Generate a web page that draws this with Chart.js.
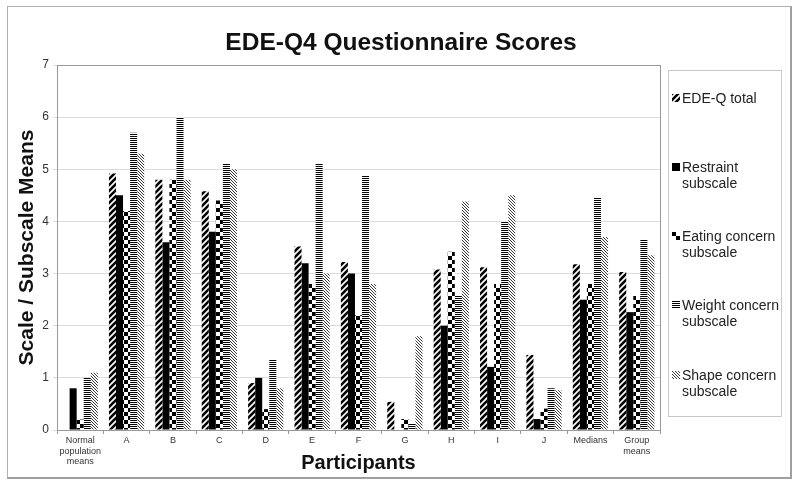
<!DOCTYPE html>
<html>
<head>
<meta charset="utf-8">
<script src="https://cdn.jsdelivr.net/npm/chart.js@4.4.1/dist/chart.umd.min.js"></script>
<style>
  html,body{margin:0;padding:0;background:#fff;}
  #wrap{position:relative;width:800px;height:488px;font-family:"Liberation Sans",Arial,sans-serif;}
  #frame{position:absolute;left:7px;top:6px;width:782px;height:470px;border:1px solid #b0b0b0;border-right:2px solid #a0a0a0;border-bottom:2px solid #a0a0a0;pointer-events:none;}
  #title{position:absolute;left:0;top:27px;width:802px;text-align:center;font-weight:bold;font-size:24.5px;color:#111;line-height:30px;}
  #legend{position:absolute;left:668px;top:70px;width:114px;height:347px;border:1px solid #c8c8c8;box-sizing:border-box;}
  .item{position:absolute;left:13px;font-size:14px;line-height:16px;color:#222;white-space:nowrap;}
  .sw{position:absolute;left:3px;width:8px;height:8px;}
  canvas#c{position:absolute;left:0;top:0;}
</style>
</head>
<body>
<div id="wrap">
  <canvas id="c" width="800" height="488"></canvas>
  <div id="title">EDE-Q4 Questionnaire Scores</div>
  <div id="legend"></div>
  <div id="frame"></div>
</div>
<script>
// ---- data ----
const categories = [['Normal','population','means'],'A','B','C','D','E','F','G','H','I','J','Medians',['Group','means']];
const edeqTotal      = [0,    4.92, 4.80, 4.58, 0.90, 3.52, 3.22, 0.54, 3.08, 3.12, 1.44, 3.18, 3.03];
const restraint      = [0.80, 4.50, 3.60, 3.80, 1.00, 3.20, 3.00, 0,    2.00, 1.21, 0.21, 2.50, 2.26];
const eatingConcern  = [0.20, 4.20, 4.80, 4.40, 0.40, 2.80, 2.20, 0.21, 3.42, 2.80, 0.41, 2.80, 2.57];
const weightConcern  = [1.00, 5.70, 6.00, 5.12, 1.36, 5.12, 4.88, 0.12, 2.59, 4.00, 0.80, 4.45, 3.65];
const shapeConcern   = [1.10, 5.30, 4.80, 5.00, 0.80, 3.00, 2.80, 1.80, 4.38, 4.50, 0.76, 3.70, 3.35];
const seriesNames = [['EDE-Q total'],['Restraint','subscale'],['Eating concern','subscale'],['Weight concern','subscale'],['Shape concern','subscale']];
const yTicks = [0,1,2,3,4,5,6,7];

// ---- patterns ----
function makePattern(type){
  const c=document.createElement('canvas'); const x=c.getContext('2d');
  if(type==='fwd'){
    const s=6; c.width=c.height=s;
    x.fillStyle='#fff';x.fillRect(0,0,s,s);
    x.strokeStyle='#000';x.lineWidth=2.6;x.beginPath();
    for(const o of [-s,0,s]){x.moveTo(o-1,s+1);x.lineTo(o+s+1,-1);}
    x.stroke();
  } else if(type==='solid'){
    return '#000';
  } else if(type==='check'){
    const s=8; c.width=c.height=s;
    x.fillStyle='#fff';x.fillRect(0,0,s,s);
    x.fillStyle='#000';x.fillRect(0,0,4,4);x.fillRect(4,4,4,4);
  } else if(type==='horiz'){
    c.width=4;c.height=2;
    x.fillStyle='#fff';x.fillRect(0,0,4,2);
    x.fillStyle='#000';x.fillRect(0,0,4,1);
  } else if(type==='back'){
    const s=3; c.width=c.height=s;
    x.fillStyle='#fff';x.fillRect(0,0,s,s);
    x.strokeStyle='#222';x.lineWidth=0.9;x.beginPath();
    for(const o of [-s,0,s]){x.moveTo(o-1,-1);x.lineTo(o+s+1,s+1);}
    x.stroke();
  }
  return x.createPattern(c,'repeat');
}
const ctx=document.getElementById('c').getContext('2d');
const fills=[makePattern('fwd'),makePattern('solid'),makePattern('check'),makePattern('horiz'),makePattern('back')];
const seriesData=[edeqTotal,restraint,eatingConcern,weightConcern,shapeConcern];

// ---- legend (HTML) ----
const legendTops=[19,88,157,226,296];
const lg=document.getElementById('legend');
seriesNames.forEach((name,i)=>{
  const d=document.createElement('div');d.className='item';d.style.top=legendTops[i]+'px';
  d.innerHTML=name.join('<br>');
  lg.appendChild(d);
  const sw=document.createElement('canvas');sw.className='sw';sw.width=8;sw.height=8;
  sw.style.top=(legendTops[i]+4)+'px';
  const sc=sw.getContext('2d');sc.fillStyle=(i===1)?'#000':fills[i];sc.fillRect(0,0,8,8);
  lg.appendChild(sw);
});

const plotBorder={id:'plotBorder',afterDatasetsDraw(chart){
  const {ctx,chartArea:a}=chart;ctx.save();ctx.strokeStyle='#999';ctx.lineWidth=1;
  ctx.strokeRect(Math.round(a.left)+0.5,Math.round(a.top)+0.5,Math.round(a.right-a.left),Math.round(a.bottom-a.top));
  ctx.restore();}};

new Chart(ctx,{
  type:'bar',
  data:{labels:categories,datasets:seriesData.map((d,i)=>({label:seriesNames[i].join(' '),data:d,backgroundColor:fills[i],borderWidth:0}))},
  options:{
    responsive:false,animation:false,
    layout:{padding:{left:8,right:140,top:65,bottom:10}},
    datasets:{bar:{categoryPercentage:0.76,barPercentage:1}},
    plugins:{legend:{display:false},title:{display:false},tooltip:{enabled:false}},
    scales:{
      x:{
        afterFit(s){s.height=48;},
        grid:{display:true,drawOnChartArea:false,offset:true,tickLength:4,color:'#999'},
        border:{display:false},
        ticks:{font:{family:'"Liberation Sans", Arial, sans-serif',size:9},color:'#333',padding:1,maxRotation:0,autoSkip:false},
        title:{display:true,text:'Participants',font:{family:'"Liberation Sans", Arial, sans-serif',size:20,weight:'bold'},color:'#111',padding:{top:0,bottom:3}}
      },
      y:{
        min:0,max:7,
        afterFit(s){s.width=49;},
        afterBuildTicks(s){s.ticks=yTicks.map(v=>({value:v}));},
        grid:{color:'#dcdcdc',tickLength:4,drawTicks:true},
        border:{display:false},
        ticks:{font:{family:'"Liberation Sans", Arial, sans-serif',size:12},color:'#333',padding:4},
        title:{display:true,text:'Scale / Subscale Means',font:{family:'"Liberation Sans", Arial, sans-serif',size:21,weight:'bold'},color:'#111',padding:{top:7,bottom:0}}
      }
    }
  },
  plugins:[plotBorder]
});
</script>
</body>
</html>
